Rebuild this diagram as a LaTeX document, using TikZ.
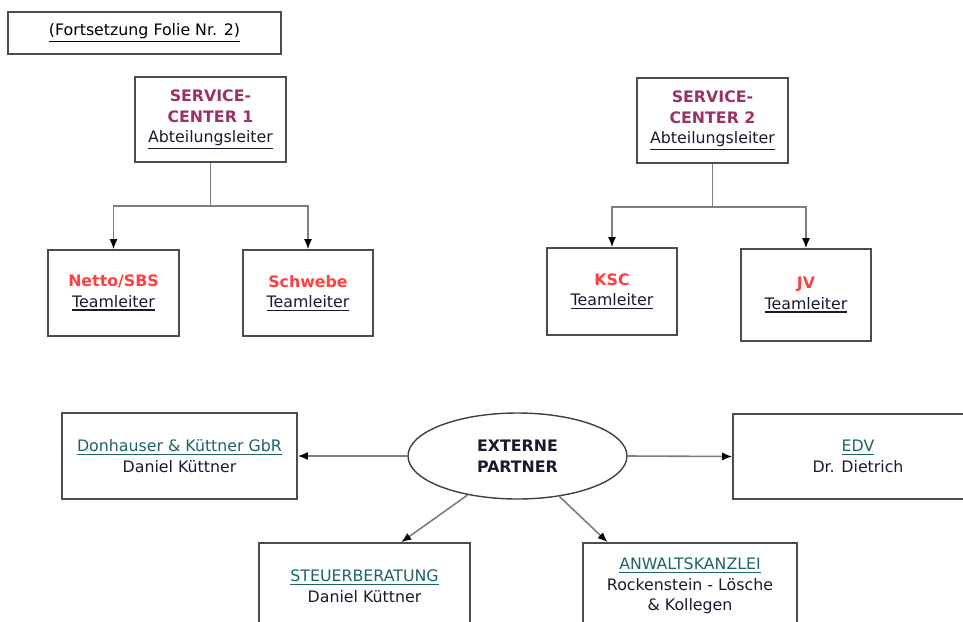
\documentclass[tikz,border=0pt]{standalone}
\usepackage{fontspec}
\setmainfont{DejaVu Sans}
\usetikzlibrary{shapes.geometric,arrows.meta}

\definecolor{scpurple}{RGB}{153,51,102}
\definecolor{teamred}{RGB}{255,64,64}
\definecolor{partnerteal}{RGB}{30,100,100}
\definecolor{inktext}{RGB}{25,25,50}
\definecolor{linegray}{RGB}{125,125,125}

% underline with a heavier rule
\newcommand{\ulined}[1]{\leavevmode\vtop{\hbox{#1}\kern1.8pt\hrule height1.4pt}}

\begin{document}
\begin{tikzpicture}[x=1pt,y=-1pt,
    rect/.style={rectangle, draw=black!70, line width=1.6pt, fill=white, align=center,
        text=inktext, inner sep=0pt, font=\fontsize{15.8}{20.5}\selectfont},
    oval/.style={ellipse, draw=black!75, line width=1.4pt, fill=white, align=center,
        text=inktext, inner sep=0pt, font=\fontsize{15.8}{20.5}\selectfont\bfseries},
    link/.style={draw=linegray, line width=1.6pt, -{Latex[black,length=10pt,width=8pt]}}]
    \useasboundingbox (0,0) rectangle (963,621);
    \clip (0,0) rectangle (963,621);

    % Nodes
    \node[rect, minimum width=273pt, minimum height=42pt, text=black] (folie) at (144.5,33) {\ulined{(Fortsetzung Folie Nr. 2)}};

    \node[rect, minimum width=151pt, minimum height=85pt] (sc1) at (210.5,119.5)
        {\textcolor{scpurple}{\bfseries SERVICE-}\\\textcolor{scpurple}{\bfseries CENTER 1}\\\ulined{Abteilungsleiter}};
    \node[rect, minimum width=131pt, minimum height=86pt] (netto) at (113.5,293)
        {\textcolor{teamred}{\bfseries Netto/SBS}\\\ulined{Teamleiter}};
    \node[rect, minimum width=130pt, minimum height=86pt] (schwebe) at (308,293)
        {\textcolor{teamred}{\bfseries Schwebe}\\\ulined{Teamleiter}};

    \node[rect, minimum width=151pt, minimum height=85pt] (sc2) at (712.5,120.5)
        {\textcolor{scpurple}{\bfseries SERVICE-}\\\textcolor{scpurple}{\bfseries CENTER 2}\\\ulined{Abteilungsleiter}};
    \node[rect, minimum width=130pt, minimum height=87pt] (ksc) at (612,291.5)
        {\textcolor{teamred}{\bfseries KSC}\\\ulined{Teamleiter}};
    \node[rect, minimum width=130pt, minimum height=92pt] (jv) at (806,295)
        {\textcolor{teamred}{\bfseries JV}\\\ulined{Teamleiter}};

    \node[oval, minimum width=219pt, minimum height=86pt] (extern) at (517.5,456) {EXTERNE\\PARTNER};
    \node[rect, minimum width=235pt, minimum height=86pt] (donhauser) at (179.5,456)
        {\textcolor{partnerteal}{\ulined{Donhauser \& Küttner GbR}}\\Daniel Küttner};
    \node[rect, minimum width=250pt, minimum height=85pt] (edv) at (858,456.5)
        {\textcolor{partnerteal}{\ulined{EDV}}\\Dr. Dietrich};
    \node[rect, minimum width=211pt, minimum height=86pt] (steuer) at (364.5,586)
        {\textcolor{partnerteal}{\ulined{STEUERBERATUNG}}\\Daniel Küttner};
    \node[rect, minimum width=214pt, minimum height=86pt] (anwalt) at (690,586)
        {\textcolor{partnerteal}{\ulined{ANWALTSKANZLEI}}\\Rockenstein - Lösche\\\& Kollegen};

    % Arrows
    \draw[link] (sc1.south) -- ++(0,43) -| (netto.north);
    \draw[link] (sc1.south) -- ++(0,43) -| (schwebe.north);
    \draw[link] (sc2.south) -- ++(0,43) -| (ksc.north);
    \draw[link] (sc2.south) -- ++(0,43) -| (jv.north);

    \draw[link] (extern.west) -- (donhauser.east);
    \draw[link] (extern.east) -- (edv.west);
    \draw[link] (extern.218) -- (steuer.50);
    \draw[link] (extern.316) -- (anwalt.152);
\end{tikzpicture}
\end{document}
